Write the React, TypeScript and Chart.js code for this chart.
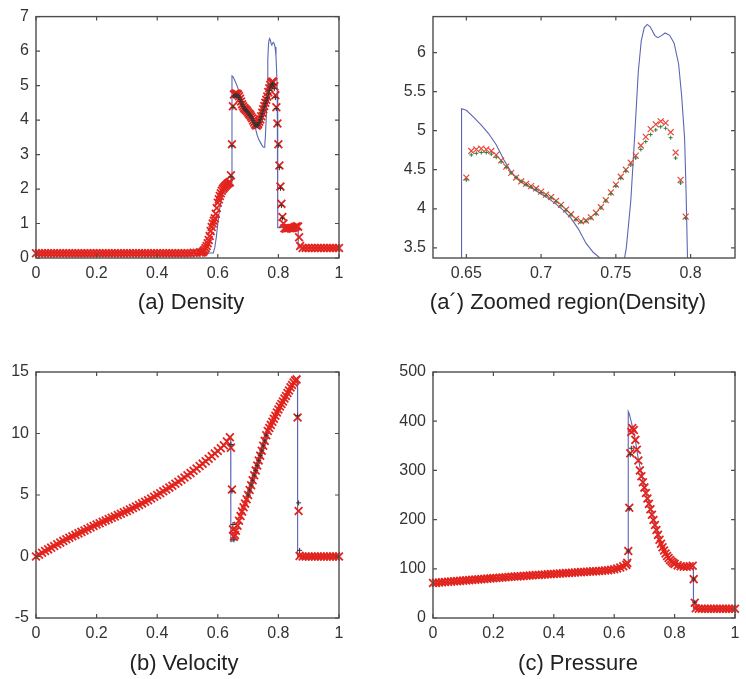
import React, { useEffect, useRef } from "react";
import { Chart, registerables } from "chart.js";

Chart.register(...registerables);

const PAGE_W = 746;
const PAGE_H = 679;

// ---------------- Density ----------------
const densityX = [
  0, 0.01, 0.02, 0.03, 0.04, 0.05, 0.06, 0.07, 0.08, 0.09,
  0.1, 0.11, 0.12, 0.13, 0.14, 0.15, 0.16, 0.17, 0.18, 0.19,
  0.2, 0.21, 0.22, 0.23, 0.24, 0.25, 0.26, 0.27, 0.28, 0.29,
  0.3, 0.31, 0.32, 0.33, 0.34, 0.35, 0.36, 0.37, 0.38, 0.39,
  0.4, 0.41, 0.42, 0.43, 0.44, 0.45, 0.46, 0.47, 0.48, 0.49,
  0.5, 0.51, 0.52, 0.53, 0.54,
  0.545, 0.55, 0.5533, 0.5567, 0.56, 0.5633, 0.5667, 0.57, 0.5733, 0.5767,
  0.58, 0.5833, 0.5867, 0.59, 0.5933, 0.5967, 0.6, 0.6033, 0.6067, 0.61,
  0.6133, 0.6167, 0.62, 0.6233, 0.6267, 0.63, 0.6333, 0.6367, 0.64,
  0.6433, 0.6467, 0.65,
  0.6533, 0.6567, 0.66, 0.6633, 0.6667, 0.67, 0.6733, 0.6767, 0.68, 0.6833,
  0.6867, 0.69, 0.6933, 0.6967, 0.7, 0.7033, 0.7067, 0.71, 0.7133, 0.7167,
  0.72, 0.7233, 0.7267, 0.73, 0.7333, 0.7367, 0.74, 0.7433, 0.7467, 0.75,
  0.7533, 0.7567, 0.76, 0.7633, 0.7667, 0.77, 0.7733, 0.7767, 0.78, 0.7833,
  0.7867, 0.79, 0.7933, 0.7967,
  0.8, 0.8033, 0.8067, 0.81, 0.8133, 0.8167,
  0.82, 0.825, 0.83, 0.835, 0.84, 0.845, 0.85, 0.855, 0.86, 0.865,
  0.8683, 0.8717,
  0.88, 0.89, 0.9, 0.91, 0.92, 0.93, 0.94, 0.95, 0.96, 0.97, 0.98, 0.99, 1,
];
const densityRed = [
  0.14, 0.14, 0.14, 0.14, 0.14, 0.14, 0.14, 0.14, 0.14, 0.14,
  0.14, 0.14, 0.14, 0.14, 0.14, 0.14, 0.14, 0.14, 0.14, 0.14,
  0.14, 0.14, 0.14, 0.14, 0.14, 0.14, 0.14, 0.14, 0.14, 0.14,
  0.14, 0.14, 0.14, 0.14, 0.14, 0.14, 0.14, 0.14, 0.14, 0.14,
  0.14, 0.14, 0.14, 0.14, 0.14, 0.14, 0.14, 0.14, 0.14, 0.14,
  0.14, 0.14, 0.15, 0.15, 0.16,
  0.16, 0.17, 0.2, 0.24, 0.29, 0.35, 0.43, 0.52, 0.64, 0.78,
  0.9, 1.0, 1.08, 1.15, 1.28, 1.45, 1.6, 1.7, 1.8, 1.88,
  1.95, 2.0, 2.04, 2.07, 2.1, 2.13, 2.16, 2.18, 2.2,
  2.4, 3.3, 4.4,
  4.74, 4.76, 4.77, 4.76, 4.74, 4.69, 4.62, 4.54, 4.46, 4.40,
  4.35, 4.32, 4.29, 4.26, 4.22, 4.18, 4.15, 4.10, 4.05, 3.99,
  3.93, 3.87, 3.84, 3.85, 3.89, 3.95, 4.02, 4.11, 4.21, 4.31,
  4.41, 4.50, 4.59, 4.68, 4.81, 4.92, 5.02, 5.08, 5.12, 5.10,
  4.98, 4.72, 4.37, 3.90,
  3.3, 2.68, 2.07, 1.57, 1.19, 1.0,
  0.86, 0.85, 0.86, 0.87, 0.86, 0.87, 0.88, 0.9, 0.92, 0.91,
  0.6, 0.35,
  0.29, 0.29, 0.29, 0.29, 0.29, 0.29, 0.29, 0.29, 0.29, 0.29, 0.29, 0.29, 0.29,
];
const densityDarkX = [
  0.6433, 0.6467, 0.65,
  0.6533, 0.6567, 0.66, 0.6633, 0.6667, 0.67, 0.6733, 0.6767, 0.68, 0.6833,
  0.6867, 0.69, 0.6933, 0.6967, 0.7, 0.7033, 0.7067, 0.71, 0.7133, 0.7167,
  0.72, 0.7233, 0.7267, 0.73, 0.7333, 0.7367, 0.74, 0.7433, 0.7467, 0.75,
  0.7533, 0.7567, 0.76, 0.7633, 0.7667, 0.77, 0.7733, 0.7767, 0.78, 0.7833,
  0.7867, 0.79, 0.7933, 0.7967,
  0.8, 0.8033, 0.8067, 0.81, 0.8133,
];
const densityDark = [
  2.35, 3.25, 4.37,
  4.69, 4.71, 4.72, 4.72, 4.70, 4.66, 4.60, 4.53, 4.46, 4.40,
  4.35, 4.31, 4.28, 4.25, 4.21, 4.17, 4.14, 4.09, 4.04, 3.98,
  3.92, 3.86, 3.83, 3.84, 3.88, 3.93, 4.01, 4.10, 4.19, 4.29,
  4.39, 4.48, 4.56, 4.65, 4.76, 4.86, 4.95, 5.01, 5.05, 5.03,
  4.91, 4.65, 4.33, 3.88,
  3.27, 2.62, 2.02, 1.52, 1.16,
];
const densityExactX = [
  0, 0.585, 0.59, 0.595, 0.6, 0.605, 0.61, 0.615, 0.62,
  0.63, 0.64, 0.6465, 0.6468, 0.65, 0.655, 0.66, 0.665,
  0.67, 0.675, 0.68, 0.685, 0.69, 0.695, 0.7, 0.705, 0.71, 0.715,
  0.72, 0.725, 0.73, 0.735, 0.74, 0.745, 0.75, 0.753, 0.755, 0.757,
  0.76, 0.7625, 0.765, 0.767, 0.769, 0.771, 0.773, 0.776, 0.778, 0.78,
  0.783, 0.786, 0.789, 0.792, 0.794, 0.796, 0.797, 0.798, 0.7985, 0.865,
  0.8655, 1,
];
const densityExact = [
  0.14, 0.15, 0.3, 0.6, 1.0, 1.35, 1.62, 1.82, 1.95,
  2.1, 2.17, 2.2, 5.28, 5.26, 5.17, 5.07, 4.96,
  4.82, 4.63, 4.47, 4.37, 4.30, 4.25, 4.19, 4.13, 4.06, 3.98,
  3.88, 3.74, 3.56, 3.44, 3.36, 3.28, 3.22, 3.21, 3.28, 3.5,
  4.1, 4.9, 5.75, 6.15, 6.32, 6.36, 6.33, 6.22, 6.19, 6.21,
  6.25, 6.22, 6.12, 5.85, 5.45, 4.9, 4.2, 3.3, 0.88, 0.88,
  0.29, 0.29,
];

// ---------------- Velocity ----------------
const velocityX = [
  0, 0.01, 0.02, 0.03, 0.04, 0.05, 0.06, 0.07, 0.08, 0.09,
  0.1, 0.11, 0.12, 0.13, 0.14, 0.15, 0.16, 0.17, 0.18, 0.19,
  0.2, 0.21, 0.22, 0.23, 0.24, 0.25, 0.26, 0.27, 0.28, 0.29,
  0.3, 0.31, 0.32, 0.33, 0.34, 0.35, 0.36, 0.37, 0.38, 0.39,
  0.4, 0.41, 0.42, 0.43, 0.44, 0.45, 0.46, 0.47, 0.48, 0.49,
  0.5, 0.51, 0.52, 0.53, 0.54, 0.55, 0.56, 0.57, 0.58, 0.59,
  0.6, 0.61, 0.62, 0.63, 0.64,
  0.6433, 0.6467, 0.65, 0.6533, 0.6567,
  0.66, 0.665, 0.67, 0.675, 0.68, 0.685, 0.69, 0.695, 0.7, 0.705,
  0.71, 0.715, 0.72, 0.725, 0.73, 0.735, 0.74, 0.745, 0.75, 0.755,
  0.76, 0.765, 0.77, 0.775, 0.78, 0.785, 0.79, 0.795, 0.8, 0.805,
  0.81, 0.815, 0.82, 0.825, 0.83, 0.835, 0.84, 0.845, 0.85, 0.855,
  0.86,
  0.8633, 0.8667, 0.87,
  0.88, 0.89, 0.9, 0.91, 0.92, 0.93, 0.94, 0.95, 0.96, 0.97, 0.98, 0.99, 1,
];
const velocityRed = [
  0.0, 0.15, 0.30, 0.44, 0.58, 0.72, 0.86, 1.0, 1.13, 1.27,
  1.40, 1.52, 1.64, 1.76, 1.88, 2.0, 2.12, 2.24, 2.36, 2.48,
  2.60, 2.71, 2.82, 2.93, 3.04, 3.15, 3.26, 3.37, 3.48, 3.59,
  3.70, 3.82, 3.94, 4.06, 4.19, 4.32, 4.45, 4.58, 4.72, 4.86,
  5.0, 5.15, 5.30, 5.45, 5.60, 5.76, 5.92, 6.08, 6.25, 6.42,
  6.60, 6.78, 6.97, 7.16, 7.35, 7.55, 7.75, 7.95, 8.16, 8.37,
  8.58, 8.80, 9.05, 9.35, 9.70,
  8.85, 5.45, 2.2, 1.6, 1.75,
  2.1, 2.5, 2.9, 3.3, 3.65, 4.0, 4.3, 4.65, 5.0, 5.4,
  5.8, 6.2, 6.6, 7.0, 7.4, 7.8, 8.2, 8.6, 9.0, 9.4,
  9.85, 10.2, 10.45, 10.7, 10.95, 11.2, 11.45, 11.7, 11.95, 12.2,
  12.4, 12.6, 12.85, 13.05, 13.3, 13.5, 13.75, 13.95, 14.15, 14.3,
  14.4,
  11.3, 3.7, 0.05,
  0, 0, 0, 0, 0, 0, 0, 0, 0, 0, 0, 0, 0,
];
const velocityDarkX = [
  0.6433, 0.6467, 0.65, 0.6533,
  0.7, 0.705, 0.71, 0.715, 0.72, 0.725, 0.73, 0.735, 0.74, 0.745, 0.75, 0.755, 0.76,
  0.8633, 0.8667, 0.87,
];
const velocityDark = [
  9.1, 5.3, 2.6, 1.35,
  5.0, 5.4, 5.8, 6.2, 6.6, 7.0, 7.4, 7.8, 8.2, 8.6, 9.0, 9.4, 9.85,
  11.45, 4.36, 0.5,
];
const velocityExactX = [
  0, 0.1, 0.2, 0.3, 0.4, 0.5, 0.6, 0.62, 0.63, 0.64, 0.6425, 0.643, 0.652,
  0.66, 0.69, 0.76, 0.77, 0.86, 0.863, 0.8635, 1,
];
const velocityExact = [
  0, 1.4, 2.6, 3.7, 5.0, 6.6, 8.58, 9.05, 9.35, 9.72, 9.75, 1.2, 1.3,
  2.1, 4.3, 9.85, 10.45, 14.4, 14.45, 0, 0,
];

// ---------------- Pressure ----------------
const pressureX = [
  0, 0.01, 0.02, 0.03, 0.04, 0.05, 0.06, 0.07, 0.08, 0.09,
  0.1, 0.11, 0.12, 0.13, 0.14, 0.15, 0.16, 0.17, 0.18, 0.19,
  0.2, 0.21, 0.22, 0.23, 0.24, 0.25, 0.26, 0.27, 0.28, 0.29,
  0.3, 0.31, 0.32, 0.33, 0.34, 0.35, 0.36, 0.37, 0.38, 0.39,
  0.4, 0.41, 0.42, 0.43, 0.44, 0.45, 0.46, 0.47, 0.48, 0.49,
  0.5, 0.51, 0.52, 0.53, 0.54, 0.55, 0.56, 0.57, 0.58, 0.59,
  0.6, 0.61, 0.62, 0.63, 0.64,
  0.6433, 0.6467, 0.65, 0.6533, 0.6567,
  0.66, 0.665, 0.67, 0.675, 0.68, 0.685, 0.69, 0.695, 0.7, 0.705,
  0.71, 0.715, 0.72, 0.725, 0.73, 0.735, 0.74, 0.745, 0.75, 0.755,
  0.76, 0.765, 0.77, 0.775, 0.78, 0.785, 0.79, 0.795, 0.8,
  0.81, 0.82, 0.83, 0.84, 0.85, 0.86,
  0.8633, 0.8667, 0.87,
  0.88, 0.89, 0.9, 0.91, 0.92, 0.93, 0.94, 0.95, 0.96, 0.97, 0.98, 0.99, 1,
];
const pressureRed = [
  71, 71.4, 72, 72.5, 73, 73.5, 74, 74.5, 75, 75.5,
  76, 76.5, 77, 77.5, 78, 78.5, 79, 79.5, 80, 80.5,
  81, 81.5, 82, 82.5, 83, 83.4, 83.8, 84.2, 84.6, 85,
  85.5, 86, 86.4, 86.8, 87.2, 87.6, 88, 88.4, 88.8, 89.2,
  89.6, 90, 90.4, 90.8, 91.2, 91.6, 92, 92.4, 92.8, 93.2,
  93.6, 94, 94.4, 94.8, 95.2, 95.6, 96, 96.6, 97.2, 98,
  99, 100.5, 102.5, 105, 108,
  112, 136, 224, 335, 378,
  386, 382, 362, 342, 320, 300, 288, 276, 265, 254,
  243, 232, 221, 210, 199, 189, 179, 169, 159, 151,
  144, 137, 131, 126, 122, 118, 115, 112, 110,
  107, 105, 104, 104, 105, 106,
  79, 31, 20,
  19, 19, 19, 19, 19, 19, 19, 19, 19, 19, 19, 19, 19,
];
const pressureDarkX = [0.6467, 0.65, 0.6533, 0.6567, 0.8633, 0.8667];
const pressureDark = [136, 222, 332, 345, 79, 32];
const pressureExactX = [
  0, 0.2, 0.4, 0.6, 0.62, 0.64, 0.6462, 0.6465, 0.65, 0.655, 0.66,
  0.665, 0.67, 0.68, 0.7, 0.75, 0.78, 0.8, 0.82, 0.862, 0.8625, 1,
];
const pressureExact = [
  70, 80, 89, 97, 101, 106, 108, 420, 415, 402, 390,
  377, 362, 322, 265, 159, 121, 109, 105, 106, 19, 19,
];

// ---------------- Ticks & captions ----------------
const unitXTicks = [0, 0.2, 0.4, 0.6, 0.8, 1];
const densityYTicks = [0, 1, 2, 3, 4, 5, 6, 7];
const zoomXTicks = [0.65, 0.7, 0.75, 0.8];
const zoomYTicks = [3.5, 4, 4.5, 5, 5.5, 6];
const velocityYTicks = [-5, 0, 5, 10, 15];
const pressureYTicks = [0, 100, 200, 300, 400, 500];
const captions = [
  "(a) Density",
  "(a\u00B4) Zoomed region(Density)",
  "(b) Velocity",
  "(c) Pressure",
];

const zip = (xs: number[], ys: number[]) => xs.map((x, i) => ({ x, y: ys[i] }));

type Pt = { x: number; y: number };
type Panel = {
  area: { left: number; top: number; right: number; bottom: number };
  yW: number;
  xMin: number; xMax: number; yMin: number; yMax: number;
  xTicks: number[]; yTicks: number[];
  red: Pt[]; dark: Pt[]; exact: Pt[];
  darkColor: string; darkRadius: number;
  redColor: string; redRadius: number; redWidth: number;
  pointClip: number;
  caption: string; cx: number; cy: number;
};

const panels: Panel[] = [
  {
    area: { left: 36, top: 13, right: 339, bottom: 258 }, yW: 36,
    xMin: 0, xMax: 1, yMin: 0, yMax: 7,
    xTicks: unitXTicks, yTicks: densityYTicks,
    red: zip(densityX, densityRed), dark: zip(densityDarkX, densityDark), exact: zip(densityExactX, densityExact),
    darkColor: "#333333", darkRadius: 2.5,
    redColor: "#e3231d", redRadius: 5.5, redWidth: 1.8, pointClip: 5,
    caption: captions[0], cx: 191, cy: 302,
  },
  {
    area: { left: 433, top: 13, right: 735, bottom: 258 }, yW: 48,
    xMin: 0.6277, xMax: 0.8297, yMin: 3.37, yMax: 6.46,
    xTicks: zoomXTicks, yTicks: zoomYTicks,
    red: zip(densityX, densityRed), dark: zip(densityDarkX, densityDark), exact: zip(densityExactX, densityExact),
    darkColor: "#2f7d3a", darkRadius: 2,
    redColor: "#e8463a", redRadius: 4.2, redWidth: 1.2, pointClip: 0,
    caption: captions[1], cx: 568, cy: 302,
  },
  {
    area: { left: 36, top: 372, right: 339, bottom: 618 }, yW: 36,
    xMin: 0, xMax: 1, yMin: -5, yMax: 15,
    xTicks: unitXTicks, yTicks: velocityYTicks,
    red: zip(velocityX, velocityRed), dark: zip(velocityDarkX, velocityDark), exact: zip(velocityExactX, velocityExact),
    darkColor: "#333333", darkRadius: 2.5,
    redColor: "#e3231d", redRadius: 5.5, redWidth: 1.8, pointClip: 5,
    caption: captions[2], cx: 184, cy: 663,
  },
  {
    area: { left: 433, top: 372, right: 735, bottom: 618 }, yW: 48,
    xMin: 0, xMax: 1, yMin: 0, yMax: 500,
    xTicks: unitXTicks, yTicks: pressureYTicks,
    red: zip(pressureX, pressureRed), dark: zip(pressureDarkX, pressureDark), exact: zip(pressureExactX, pressureExact),
    darkColor: "#333333", darkRadius: 2.5,
    redColor: "#e3231d", redRadius: 5.5, redWidth: 1.8, pointClip: 5,
    caption: captions[3], cx: 578, cy: 663,
  },
];

const FONT = '"Liberation Sans", Arial, Helvetica, sans-serif';

const framePlugin = {
  id: "frame",
  afterDatasetsDraw(chart: any) {
    const { ctx, chartArea: a, scales } = chart;
    ctx.save();
    ctx.strokeStyle = "#4d4d4d";
    ctx.lineWidth = 1.4;
    ctx.strokeRect(a.left, a.top, a.right - a.left, a.bottom - a.top);
    ctx.lineWidth = 1.2;
    const tl = 4;
    ctx.beginPath();
    for (const t of scales.x.ticks) {
      const px = scales.x.getPixelForValue(t.value);
      ctx.moveTo(px, a.bottom);
      ctx.lineTo(px, a.bottom - tl);
      ctx.moveTo(px, a.top);
      ctx.lineTo(px, a.top + tl);
    }
    for (const t of scales.y.ticks) {
      const py = scales.y.getPixelForValue(t.value);
      ctx.moveTo(a.left, py);
      ctx.lineTo(a.left + tl, py);
      ctx.moveTo(a.right, py);
      ctx.lineTo(a.right - tl, py);
    }
    ctx.stroke();
    ctx.restore();
  },
};

function buildConfig(p: Panel): any {
  const yW = p.yW;
  const xH = 40;
  return {
    type: "scatter",
    data: {
      datasets: [
        {
          label: "scheme B",
          data: p.dark,
          showLine: false,
          pointStyle: "cross",
          pointRadius: p.darkRadius,
          borderColor: p.darkColor,
          backgroundColor: p.darkColor,
          borderWidth: 1,
          clip: p.pointClip,
        },
        {
          label: "scheme A",
          data: p.red,
          showLine: false,
          pointStyle: "crossRot",
          pointRadius: p.redRadius,
          borderColor: p.redColor,
          backgroundColor: "rgba(0,0,0,0)",
          borderWidth: p.redWidth,
          clip: p.pointClip,
        },
        {
          label: "reference",
          data: p.exact,
          showLine: true,
          pointRadius: 0,
          borderColor: "#5a66b4",
          borderWidth: 1.1,
          tension: 0,
          clip: 0,
        },
      ],
    },
    options: {
      responsive: false,
      animation: false,
      events: [],
      layout: {
        padding: {
          left: p.area.left - yW,
          top: p.area.top,
          right: PAGE_W - p.area.right,
          bottom: PAGE_H - p.area.bottom - xH,
        },
      },
      plugins: { legend: { display: false }, tooltip: { enabled: false } },
      scales: {
        x: {
          type: "linear",
          position: "bottom",
          min: p.xMin,
          max: p.xMax,
          grid: { display: false, drawTicks: false },
          border: { display: false },
          afterBuildTicks: (s: any) => {
            s.ticks = p.xTicks.map((v) => ({ value: v }));
          },
          afterFit: (s: any) => {
            s.height = xH;
          },
          ticks: {
            padding: 6,
            autoSkip: false,
            maxRotation: 0,
            color: "#333",
            font: { family: FONT, size: 16 },
            callback: (v: number) => String(v),
          },
        },
        y: {
          type: "linear",
          position: "left",
          min: p.yMin,
          max: p.yMax,
          grid: { display: false, drawTicks: false },
          border: { display: false },
          afterBuildTicks: (s: any) => {
            s.ticks = p.yTicks.map((v) => ({ value: v }));
          },
          afterFit: (s: any) => {
            s.width = yW;
          },
          ticks: {
            padding: 7,
            autoSkip: false,
            color: "#333",
            font: { family: FONT, size: 16 },
            callback: (v: number) => String(v),
          },
        },
      },
    },
    plugins: [framePlugin],
  };
}

function PanelChart({ spec }: { spec: Panel }) {
  const ref = useRef<HTMLCanvasElement>(null);
  useEffect(() => {
    const chart = new Chart(ref.current as HTMLCanvasElement, buildConfig(spec));
    return () => chart.destroy();
  }, [spec]);
  return (
    <canvas
      ref={ref}
      width={PAGE_W}
      height={PAGE_H}
      style={{ position: "absolute", left: 0, top: 0, width: PAGE_W, height: PAGE_H }}
    />
  );
}

export default function App() {
  return (
    <div
      style={{
        position: "absolute",
        left: 0,
        top: 0,
        width: PAGE_W,
        height: PAGE_H,
        background: "#ffffff",
        overflow: "hidden",
      }}
    >
      {panels.map((p, i) => (
        <PanelChart key={i} spec={p} />
      ))}
      {panels.map((p, i) => (
        <div
          key={"cap" + i}
          style={{
            position: "absolute",
            left: p.cx - 200,
            width: 400,
            top: p.cy - 13,
            height: 26,
            lineHeight: "26px",
            textAlign: "center",
            fontFamily: FONT,
            fontSize: 22,
            color: "#222",
            whiteSpace: "nowrap",
          }}
        >
          {p.caption}
        </div>
      ))}
    </div>
  );
}
